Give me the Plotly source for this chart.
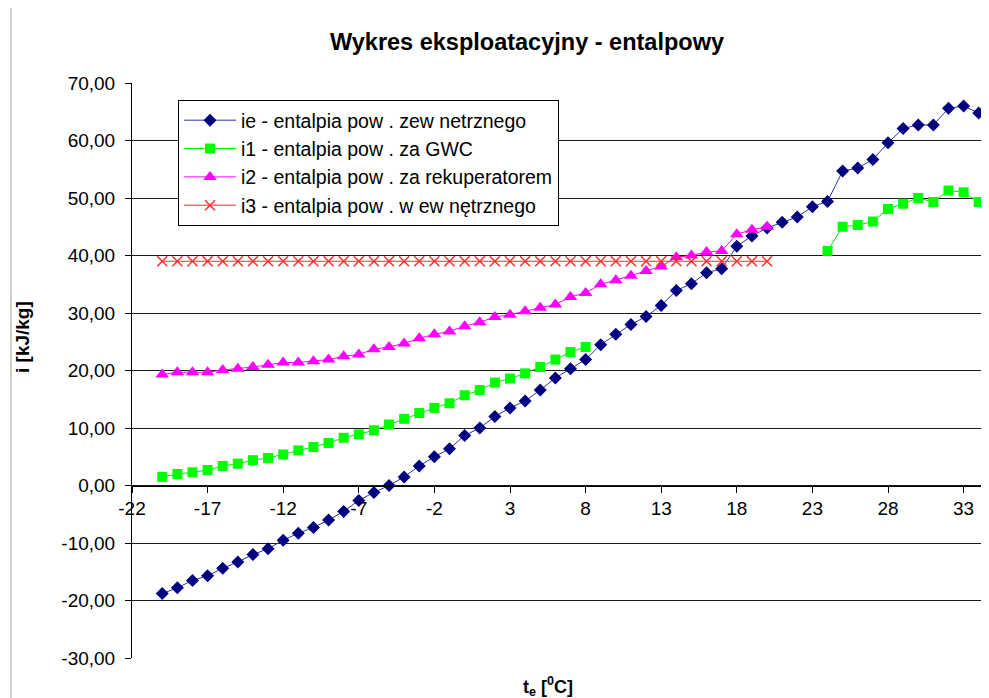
import plotly.graph_objects as go

# ---------------- data ----------------
t_ie = list(range(-20, 35))
ie = [-18.8, -17.8, -16.5, -15.7, -14.4, -13.3, -12.0, -11.0, -9.5, -8.3,
      -7.3, -6.0, -4.5, -2.6, -1.2, 0.0, 1.5, 3.4, 5.0, 6.4,
      8.7, 10.0, 12.0, 13.5, 14.7, 16.6, 18.7, 20.3, 21.9, 24.5,
      26.3, 28.0, 29.4, 31.3, 33.9, 35.1, 37.0, 37.7, 41.6, 43.4,
      44.8, 45.8, 46.7, 48.5, 49.4, 54.7, 55.2, 56.7, 59.6, 62.1,
      62.7, 62.7, 65.6, 66.0, 64.8]

t_i1 = list(range(-20, 9)) + [None] + list(range(24, 35))
i1 = [1.5, 2.0, 2.3, 2.7, 3.4, 3.8, 4.4, 4.8, 5.4, 6.1,
      6.7, 7.4, 8.3, 8.9, 9.6, 10.6, 11.6, 12.6, 13.5, 14.3,
      15.7, 16.6, 17.9, 18.6, 19.5, 20.6, 21.9, 23.2, 24.1,
      None,
      40.8, 45.0, 45.3, 45.9, 48.1, 49.0, 50.0, 49.3, 51.3, 51.0, 49.3]

t_i2 = list(range(-20, 21))
i2 = [19.3, 19.7, 19.7, 19.7, 20.1, 20.3, 20.6, 21.0, 21.4, 21.4,
      21.6, 21.9, 22.5, 22.8, 23.7, 24.1, 24.7, 25.6, 26.3, 26.8,
      27.7, 28.4, 29.3, 29.7, 30.3, 30.9, 31.5, 32.8, 33.5, 35.0,
      35.7, 36.5, 37.3, 38.1, 39.7, 40.0, 40.6, 40.8, 43.7, 44.5, 45.0]

t_i3 = list(range(-20, 21))
i3 = [39.0] * len(t_i3)

names = ["ie - entalpia pow . zew netrznego",
         "i1 - entalpia pow . za GWC",
         "i2 - entalpia pow . za rekuperatorem",
         "i3 - entalpia pow . w ew nętrznego"]

x_tickvals = [-22, -17, -12, -7, -2, 3, 8, 13, 18, 23, 28, 33]
x_ticktext = ["-22", "-17", "-12", "-7", "-2", "3", "8", "13", "18", "23", "28", "33"]
y_tickvals = [-30, -20, -10, 0, 10, 20, 30, 40, 50, 60, 70]
y_ticktext = ["-30,00", "-20,00", "-10,00", "0,00", "10,00", "20,00",
              "30,00", "40,00", "50,00", "60,00", "70,00"]

title = "Wykres eksploatacyjny - entalpowy"
y_title = "i [kJ/kg]"
x_title = "t<sub>e</sub> [<sup>0</sup>C]"

FONT = "Liberation Sans, Arial, sans-serif"

# page has an 8px body margin: plot area in page pixels is x 132..989, y 83..658
W, H = 981, 690
L, T, B = 124, 75, 40
PW, PH = W - L, H - T - B


def px(xp):
    return (xp - 132) / PW


def py(yp):
    return (658 - yp) / PH


fig = go.Figure()
fig.add_trace(go.Scatter(x=t_ie, y=ie, name=names[0], mode="lines+markers",
                         line=dict(color="#2a35b0", width=1),
                         marker=dict(symbol="diamond", size=10, color="#000080")))
fig.add_trace(go.Scatter(x=t_i1, y=i1, name=names[1], mode="lines+markers",
                         line=dict(color="#00ee00", width=1),
                         marker=dict(symbol="square", size=10, color="#00ff00")))
fig.add_trace(go.Scatter(x=t_i2, y=i2, name=names[2], mode="lines+markers",
                         line=dict(color="#ff00ff", width=1),
                         marker=dict(symbol="triangle-up", size=12, color="#ff00ff")))
fig.add_trace(go.Scatter(x=t_i3, y=i3, name=names[3], mode="lines+markers",
                         line=dict(color="#ff3030", width=1),
                         marker=dict(symbol="x-thin-open", size=10,
                                     line=dict(color="#ff3030", width=1.5))))

fig.update_layout(
    width=W, height=H,
    margin=dict(l=L, r=0, t=T, b=B),
    paper_bgcolor="white", plot_bgcolor="white",
    font=dict(family=FONT, size=19, color="#000"),
    title=dict(text="<b>" + title + "</b>", x=(527 - 8) / W, xanchor="center",
               y=1 - (42 - 8) / H, yanchor="middle",
               font=dict(family=FONT, size=23.5, color="#000")),
    showlegend=True,
    legend=dict(x=px(178), y=py(100), xanchor="left", yanchor="top",
                bgcolor="white", bordercolor="#000", borderwidth=1,
                itemwidth=52,
                font=dict(family=FONT, size=19.5, color="#000")),
    xaxis=dict(range=[-22, 34.68], tickmode="array",
               tickvals=x_tickvals, ticktext=x_ticktext,
               showgrid=False, zeroline=False,
               showline=True, linecolor="#000", linewidth=1,
               ticks="outside", ticklen=6, tickcolor="#000",
               anchor="free", position=0.3,
               tickfont=dict(family=FONT, size=19, color="#000")),
    yaxis=dict(range=[-30, 70], tickmode="array",
               tickvals=y_tickvals, ticktext=y_ticktext,
               showgrid=True, gridcolor="#1a1a1a", gridwidth=1,
               zeroline=False,
               showline=True, linecolor="#000", linewidth=1,
               ticks="outside", ticklen=6, tickcolor="#000",
               ticklabelstandoff=6,
               tickfont=dict(family=FONT, size=19, color="#000")),
)

fig.add_annotation(text="<b>" + y_title + "</b>", xref="paper", yref="paper",
                   x=px(22), y=py(337), textangle=-90,
                   showarrow=False, xanchor="center", yanchor="middle",
                   font=dict(family=FONT, size=19, color="#000"))
fig.add_annotation(text="<b>" + x_title + "</b>", xref="paper", yref="paper",
                   x=px(548), y=py(686),
                   showarrow=False, xanchor="center", yanchor="middle",
                   font=dict(family=FONT, size=18, color="#000"))

fig.add_shape(type="line", xref="paper", yref="paper",
              x0=px(11), x1=px(11),
              y0=py(8), y1=py(698),
              line=dict(color="#d0d0d0", width=2))

fig.write_html("out.html")
